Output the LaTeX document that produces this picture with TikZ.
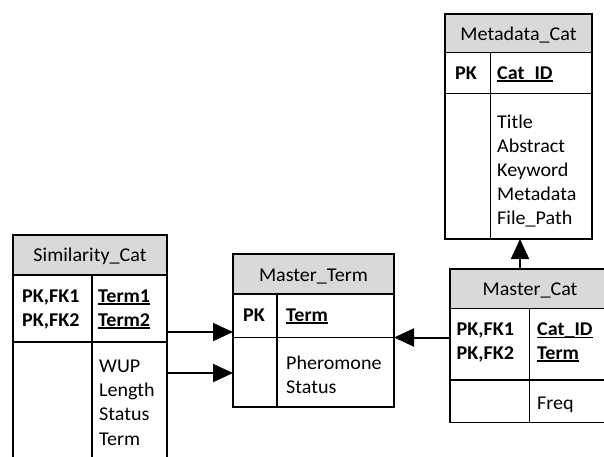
\documentclass[tikz,border=0pt]{standalone}
\usepackage{fontspec}
\setmainfont{Carlito}[FakeStretch=1.03]
\usetikzlibrary{arrows.meta}
\definecolor{hdr}{HTML}{D9D9D9}
\newcommand\fs{\fontsize{19.5}{24}\selectfont}
\newcommand\myul[1]{\setbox0\hbox{#1}\rlap{\rule[-2.6pt]{\wd0}{1.3pt}}\box0}
\begin{document}
\begin{tikzpicture}[x=1pt,y=-1pt, font=\fs,
  cell/.style={draw, line width=1.3pt, rectangle, inner sep=0pt, outer sep=0pt, anchor=north west},
  head/.style={cell, fill=hdr},
  txt/.style={inner sep=0pt, anchor=base west},
  ttl/.style={inner sep=0pt, anchor=base},
  key/.style={txt, font=\fs\bfseries},
  fk/.style={-{Triangle[length=20pt,width=18pt]}, line width=2pt}]
\useasboundingbox (0,0) rectangle (604,456);
\fill[white] (0,0) rectangle (604,456);
\clip (0,0) rectangle (604,456);

% ---------- Metadata_Cat ----------
\node[head, minimum width=147pt, minimum height=38.7pt] (mdH) at (445,14) {};
\node[cell, minimum width=45.5pt, minimum height=40.8pt] (mdKL) at (445,52.7) {};
\node[cell, minimum width=101.5pt, minimum height=40.8pt] (mdKR) at (490.5,52.7) {};
\node[cell, minimum width=45.5pt, minimum height=145.5pt] (mdAL) at (445,93.5) {};
\node[cell, minimum width=101.5pt, minimum height=145.5pt] (mdAR) at (490.5,93.5) {};
\node[ttl] (mdT) at (518.5,40) {Metadata\_Cat};
\node[key] (mdPK) at (455,79) {PK};
\node[key] (mdK1) at (497,79) {\myul{Cat\_ID}};
\node[txt] (mdA1) at (497,128) {Title};
\node[txt] (mdA2) at (497,152) {Abstract};
\node[txt] (mdA3) at (497,176) {Keyword};
\node[txt] (mdA4) at (497,200) {Metadata};
\node[txt] (mdA5) at (497,224) {File\_Path};

% ---------- Similarity_Cat ----------
\node[head, minimum width=154pt, minimum height=40pt] (simH) at (13,235) {};
\node[cell, minimum width=79pt, minimum height=67pt] (simKL) at (13,275) {};
\node[cell, minimum width=75pt, minimum height=67pt] (simKR) at (92,275) {};
\node[cell, minimum width=79pt, minimum height=128pt] (simAL) at (13,342) {};
\node[cell, minimum width=75pt, minimum height=128pt] (simAR) at (92,342) {};
\node[ttl] (simT) at (90,261) {Similarity\_Cat};
\node[key] (simP1) at (22,302) {PK,FK1};
\node[key] (simP2) at (22,326) {PK,FK2};
\node[key] (simK1) at (98,302) {\myul{Term1}};
\node[key] (simK2) at (98,326) {\myul{Term2}};
\node[txt] (simA1) at (99,372) {WUP};
\node[txt] (simA2) at (99,396) {Length};
\node[txt] (simA3) at (99,420.5) {Status};
\node[txt] (simA4) at (99,445) {Term};

% ---------- Master_Term ----------
\node[head, minimum width=161pt, minimum height=40pt] (mtH) at (233,254) {};
\node[cell, minimum width=44pt, minimum height=43.5pt] (mtKL) at (233,294) {};
\node[cell, minimum width=117pt, minimum height=43.5pt] (mtKR) at (277,294) {};
\node[cell, minimum width=44pt, minimum height=69.5pt] (mtAL) at (233,337.5) {};
\node[cell, minimum width=117pt, minimum height=69.5pt] (mtAR) at (277,337.5) {};
\node[ttl] (mtT) at (313.5,281) {Master\_Term};
\node[key] (mtPK) at (243,321) {PK};
\node[key] (mtK1) at (286,321) {\myul{Term}};
\node[txt] (mtA1) at (286,369) {Pheromone};
\node[txt] (mtA2) at (286,393) {Status};

% ---------- Master_Cat ----------
\node[head, minimum width=162pt, minimum height=39.3pt] (mcH) at (450,269) {};
\node[cell, minimum width=79.5pt, minimum height=71.7pt] (mcKL) at (450,308.3) {};
\node[cell, minimum width=82.5pt, minimum height=71.7pt] (mcKR) at (529.5,308.3) {};
\node[cell, minimum width=79.5pt, minimum height=42.5pt] (mcAL) at (450,380) {};
\node[cell, minimum width=82.5pt, minimum height=42.5pt] (mcAR) at (529.5,380) {};
\node[ttl] (mcT) at (530,295) {Master\_Cat};
\node[key] (mcP1) at (456.5,335.5) {PK,FK1};
\node[key] (mcP2) at (456.5,359) {PK,FK2};
\node[key] (mcK1) at (537,335.5) {\myul{Cat\_ID}};
\node[key] (mcK2) at (537,359) {\myul{Term}};
\node[txt] (mcA1) at (537,409) {Freq};

% ---------- connectors ----------
\coordinate (s1) at ([yshift=10pt]simKR.south east);
\coordinate (s2) at ([yshift=-31pt]simAR.north east);
\coordinate (u) at ([xshift=70pt]mcH.north west);
\draw[fk] (s1) -- (s1 -| mtKL.west);
\draw[fk] (s2) -- (s2 -| mtAL.west);
\draw[fk] (mtKR.south east -| mcKL.west) -- (mtKR.south east);
\draw[fk] (u) -- (u |- mdAR.south);
\end{tikzpicture}
\end{document}
